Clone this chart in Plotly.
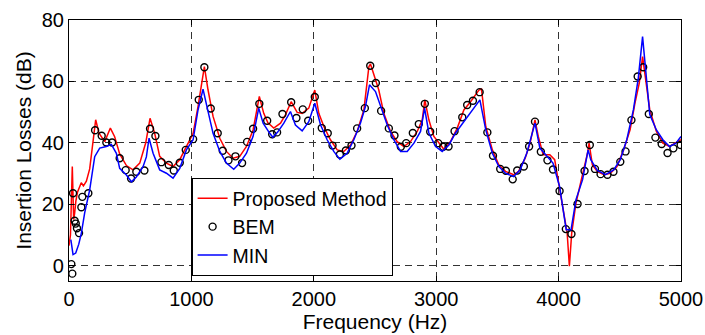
import plotly.graph_objects as go

# Proposed Method (red line)
prop_f = [0, 12, 27, 38, 46, 56, 70, 100, 118, 142, 169, 196, 218, 245, 292, 338, 373, 414, 469, 523,
          578, 627, 662, 700, 741, 796, 850, 905, 959, 1014, 1054, 1082, 1106, 1136, 1177, 1232, 1286,
          1341, 1395, 1450, 1504, 1555, 1591, 1625, 1673, 1728, 1768, 1815, 1864, 1905, 1959, 2008,
          2041, 2082, 2136, 2191, 2245, 2300, 2354, 2409, 2450, 2463, 2504, 2531, 2572, 2627, 2681,
          2736, 2790, 2845, 2886, 2907, 2940, 2981, 3036, 3063, 3117, 3172, 3226, 3281, 3349, 3370,
          3405, 3459, 3512, 3566, 3633, 3673, 3727, 3767, 3807, 3834, 3874, 3928, 3968, 4008, 4048,
          4070, 4088, 4107, 4142, 4196, 4236, 4249, 4276, 4316, 4370, 4423, 4477, 4531, 4584, 4624,
          4659, 4686, 4713, 4745, 4799, 4852, 4906, 4959, 5000]
prop_db = [6.5, 10, 32.3, 15, 17, 21, 24, 27, 26, 27.5, 31.5, 41, 47.5, 43.1, 40.4, 44.8, 42, 36.4, 32.6, 31.2,
           33.4, 40, 48, 43.1, 35.6, 33.4, 32.3, 34.5, 38.8, 43.1, 51.8, 59.4, 64.8, 57.2, 48.6, 41.5, 37.2,
           35, 35.6, 38.8, 44.2, 55.1, 49.6, 46.5, 44.8, 46.4, 49.1, 53.4, 49.9, 49.6, 51.3, 57.2,
           49.6, 45.3, 41, 37.7, 37.2, 39.3, 43.7, 50.7, 64.8, 65.7, 60.4, 57.2, 49.6, 43.7, 40.4,
           38.8, 40.4, 43.7, 47.5, 54, 47.5, 42.1, 39.3, 37.9, 40.4, 44.8, 50.7, 53.4, 57.2, 57.5,
           45.3, 37.7, 32.8, 30.7, 29.6, 30.7, 35, 39.9, 47.5, 42.1, 36.1, 36.1, 34.5, 24.8, 15,
           10.6, -0.2, 10.6, 20.4, 29.6, 36.6, 39.9, 32.8, 30.7, 29.6, 30.1, 32.3, 37.7, 44.2, 52.9,
           59.4, 68.1, 59.4, 50.7, 43.7, 39.9, 38.8, 39.9, 41]

# BEM (open circles)
bem_f = [19, 27, 33, 46, 55, 65, 82, 101, 109, 158, 213, 267, 305, 352, 414, 463, 507, 550, 616, 662,
         706, 755, 815, 856, 905, 954, 1014, 1060, 1106, 1158, 1215, 1256, 1303, 1360, 1414, 1455,
         1504, 1555, 1619, 1660, 1700, 1744, 1815, 1858, 1910, 1954, 2008, 2065, 2114, 2153, 2213,
         2262, 2308, 2354, 2417, 2461, 2507, 2550, 2613, 2659, 2711, 2755, 2809, 2858, 2907, 2951,
         3016, 3057, 3101, 3150, 3213, 3253, 3300, 3355, 3418, 3464, 3523, 3569, 3625, 3662, 3716,
         3759, 3807, 3855, 3909, 3954, 4008, 4059, 4105, 4155, 4212, 4255, 4297, 4343, 4399, 4448,
         4504, 4547, 4595, 4646, 4691, 4737, 4791, 4842, 4890, 4938, 4997]
bem_db = [0.5, -2.6, 23.6, 14.6, 13.7, 12.2, 10.6, 19, 22.4, 23.6, 44.1, 42.3, 40.1, 40.1, 35, 31.1, 28.4, 30.6, 31, 44.6,
          42.2, 33.7, 32.8, 31, 33.5, 37.7, 41.2, 54, 64.6, 51.2, 43.1, 37.4, 34.3, 35.6, 33.4, 40.3,
          44.6, 52.7, 47.2, 42.8, 43.4, 49.4, 53.2, 48.1, 50.9, 47.2, 54.9, 44.8, 43.1, 39.1, 36.2,
          37.5, 39.1, 44.7, 51.3, 65.1, 59.5, 50.4, 44.7, 42.4, 38.7, 39.9, 43.2, 46.1, 52.7, 43.6,
          39.9, 38.7, 38.8, 43.8, 48.3, 52.3, 53.7, 56.5, 43.4, 35.8, 31.5, 30.9, 28.1, 31, 32.3,
          38.8, 46.9, 37.1, 34.3, 31.3, 24.3, 11.9, 10.3, 20.1, 30.8, 39.3, 31.5, 29.8, 29.6, 30.6,
          33.8, 37.2, 47.4, 61.6, 64.6, 49.4, 41.7, 39.6, 36.7, 38.2, 39.3]

# MIN (blue line)
min_f = [15, 33, 55, 80, 101, 128, 169, 210, 251, 305, 346, 387, 414, 469, 510, 550, 605, 632, 654, 687,
         741, 796, 850, 905, 959, 1014, 1054, 1095, 1122, 1177, 1232, 1286, 1346, 1395, 1450, 1504,
         1550, 1586, 1640, 1665, 1705, 1755, 1809, 1850, 1905, 1959, 2008, 2055, 2109, 2163, 2213,
         2272, 2327, 2381, 2422, 2455, 2504, 2545, 2600, 2654, 2709, 2763, 2818, 2872, 2905, 2940,
         2995, 3049, 3104, 3158, 3226, 3281, 3357, 3405, 3459, 3512, 3566, 3633, 3686, 3740, 3807,
         3847, 3914, 3954, 4008, 4062, 4102, 4142, 4196, 4241, 4263, 4316, 4383, 4450, 4504, 4557,
         4611, 4651, 4686, 4713, 4745, 4799, 4852, 4906, 4959, 5000]
min_db = [8.5, 3.6, 4.1, 7, 10.6, 17.2, 24.7, 35.5, 38.3, 38.8, 39.5, 36.6, 31.7, 29.5, 27.3, 28.9, 32.2, 35.4, 41.5, 36.6,
          31.2, 30.1, 28.5, 31.7, 37.7, 41, 50.7, 57.5, 52.7, 43.1, 37.2, 33.4, 31.4, 33.4, 36.6, 42.1,
          51.3, 46.4, 43.1, 41.8, 43.5, 46.4, 50.2, 45.8, 43.9, 46.9, 52.9, 45.9, 41, 37.2, 34.7,
          36.6, 41, 46.4, 51.8, 58.9, 56.7, 52.3, 45.8, 41, 37.2, 37.2, 39.9, 43.7, 51.3, 43.2,
          38.8, 37.2, 39.3, 43.2, 46.9, 50.2, 54, 44.2, 36.6, 32.3, 30.1, 29, 31.2, 36.6, 46.4,
          38.3, 35, 33.4, 25.8, 11.7, 11.7, 21.5, 28, 37.7, 34.5, 31, 29.6, 31.2, 34.5, 41,
          50.7, 61, 74.6, 63.8, 49.2, 44.2, 41, 38.8, 39.9, 42.1]

x_ticks = [0, 1000, 2000, 3000, 4000, 5000]
y_ticks = [0, 20, 40, 60, 80]

FONT = "Liberation Sans, Arial, sans-serif"

fig = go.Figure()
fig.add_trace(go.Scatter(x=prop_f, y=prop_db, mode="lines", name="Proposed Method",
                         line=dict(color="#ff0000", width=1.5)))
fig.add_trace(go.Scatter(x=bem_f, y=bem_db, mode="markers", name="BEM",
                         marker=dict(symbol="circle-open", size=7, color="black",
                                     line=dict(width=1.4, color="black"))))
fig.add_trace(go.Scatter(x=min_f, y=min_db, mode="lines", name="MIN",
                         line=dict(color="#0000ff", width=1.5)))

axis_common = dict(showline=True, linecolor="black", linewidth=1.2, mirror="allticks",
                   ticks="inside", ticklen=5, tickcolor="black", tickwidth=1,
                   showgrid=True, gridcolor="#333333", gridwidth=1.1, griddash="7px,5px",
                   zeroline=False, automargin=False,
                   tickfont=dict(family=FONT, size=20, color="black"))

fig.update_layout(
    template="none",
    width=705, height=335,
    margin=dict(l=69, r=23.5, t=20, b=54),
    paper_bgcolor="white", plot_bgcolor="white",
    font=dict(family=FONT, size=20, color="black"),
    showlegend=True,
    legend=dict(x=0.2, y=0.395, xanchor="left", yanchor="top",
                bgcolor="white", bordercolor="black", borderwidth=1.2,
                font=dict(family=FONT, size=19.5, color="black"),
                itemwidth=30, tracegroupgap=0),
    xaxis=dict(range=[0, 5000], tickvals=x_ticks, ticktext=[str(v) for v in x_ticks],
               title=dict(text="Frequency (Hz)", font=dict(family=FONT, size=21), standoff=2),
               **axis_common),
    yaxis=dict(range=[-5, 80], tickvals=y_ticks, ticktext=[str(v) for v in y_ticks],
               title=dict(text="Insertion Losses (dB)", font=dict(family=FONT, size=21), standoff=4),
               **axis_common),
)

fig.write_html("out.html")
